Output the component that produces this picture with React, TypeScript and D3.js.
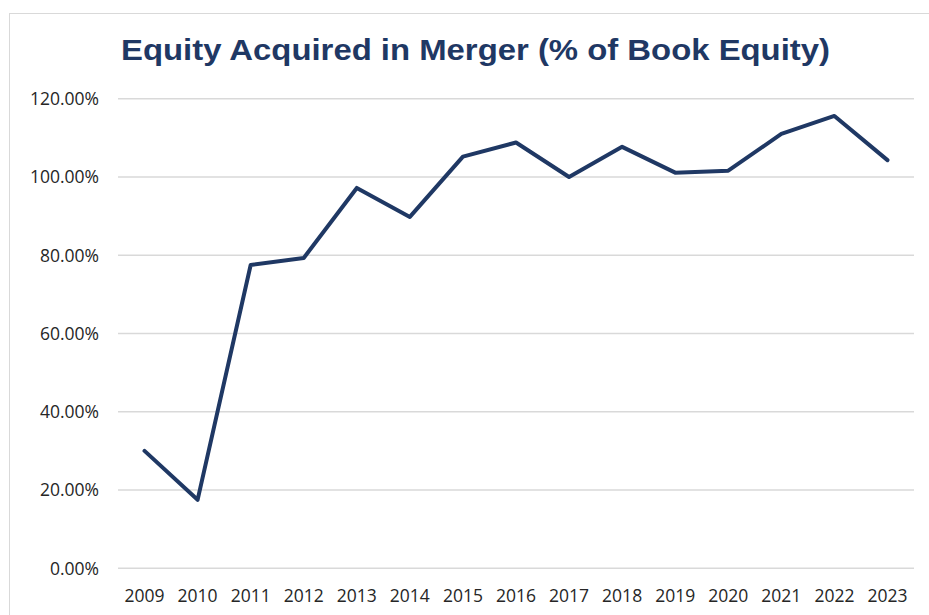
import React from "react";
import * as d3 from "d3";

const years = ["2009","2010","2011","2012","2013","2014","2015","2016","2017","2018","2019","2020","2021","2022","2023"];
const values = [30.0, 17.5, 77.5, 79.3, 97.2, 89.8, 105.2, 108.8, 100.0, 107.7, 101.1, 101.6, 111.0, 115.6, 104.3];
const yTicks = [0, 20, 40, 60, 80, 100, 120];
const title = "Equity Acquired in Merger (% of Book Equity)";

export default function App() {
  const W = 929, H = 615;
  const left = 118, right = 914, top = 98.7, bottom = 568.3;
  const x = d3.scaleBand<string>().domain(years).range([left, right]);
  const y = d3.scaleLinear().domain([0, 120]).range([bottom, top]);
  const line = d3.line<number>()
    .x((_, i) => (x(years[i]) as number) + x.bandwidth() / 2)
    .y((d) => y(d));
  const labelFont = "'Open Sans', 'Liberation Sans', sans-serif";
  return (
    <svg width={W} height={H} style={{ position: "absolute", left: 0, top: 0 }}>
      <rect x={0} y={0} width={W} height={H} fill="#fff" />
      <rect x={9.5} y={13.5} width={W + 10} height={H + 10} fill="#fff" stroke="#d9d9d9" strokeWidth={1} />
      <text x={121} y={60} textLength={709} lengthAdjust="spacingAndGlyphs" fill="#1f3864" fontFamily="'Liberation Sans', Arial, sans-serif" fontWeight="bold" fontSize={30}>{title}</text>
      {yTicks.map((t) => (
        <g key={t}>
          <line x1={left} x2={right} y1={y(t)} y2={y(t)} stroke="#d9d9d9" strokeWidth={1.5} />
          <text x={99} y={y(t)} dy="0.36em" textAnchor="end" fill="#262626" fontFamily={labelFont} fontSize={17.5}>{t.toFixed(2) + "%"}</text>
        </g>
      ))}
      {years.map((yr) => (
        <text key={yr} x={(x(yr) as number) + x.bandwidth() / 2} y={596} dy="0.36em" textAnchor="middle" fill="#262626" fontFamily={labelFont} fontSize={17.5}>{yr}</text>
      ))}
      <path d={line(values) || ""} fill="none" stroke="#1f3864" strokeWidth={4} strokeLinejoin="round" strokeLinecap="round" />
    </svg>
  );
}
